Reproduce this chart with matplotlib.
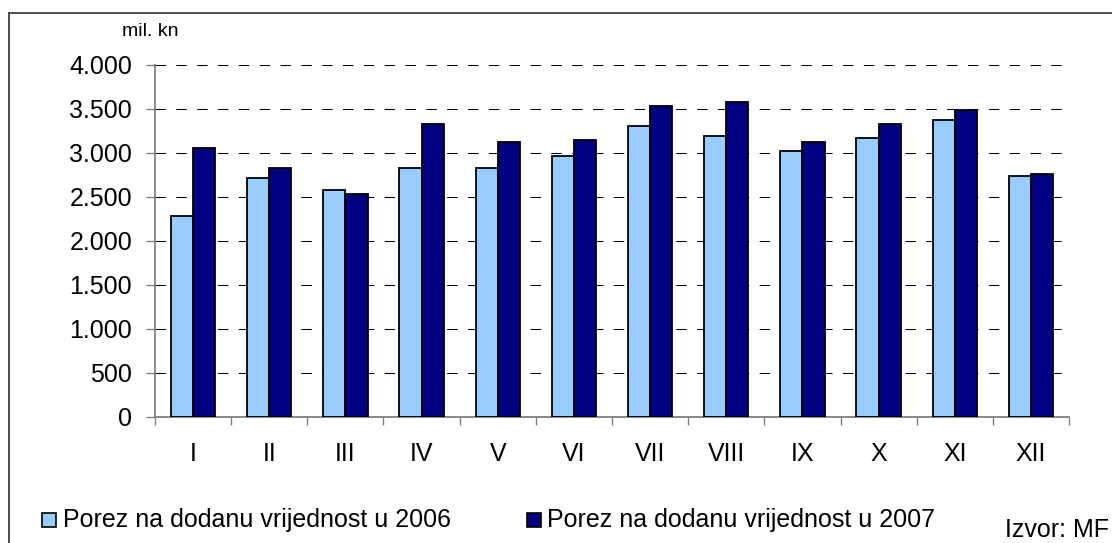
import matplotlib
matplotlib.use("Agg")
import matplotlib.pyplot as plt
from matplotlib.patches import Rectangle
from matplotlib.lines import Line2D
import numpy as np

months = ["I", "II", "III", "IV", "V", "VI", "VII", "VIII", "IX", "X", "XI", "XII"]
pdv_2006 = [2280, 2710, 2575, 2825, 2825, 2960, 3300, 3185, 3025, 3165, 3370, 2730]
pdv_2007 = [3050, 2825, 2530, 3325, 3120, 3140, 3530, 3575, 3120, 3325, 3485, 2755]
y_ticks = [0, 500, 1000, 1500, 2000, 2500, 3000, 3500, 4000]
y_tick_labels = ["0", "500", "1.000", "1.500", "2.000", "2.500", "3.000", "3.500", "4.000"]
series_labels = ["Porez na dodanu vrijednost u 2006", "Porez na dodanu vrijednost u 2007"]
unit_label = "mil. kn"
source_label = "Izvor: MF"

W, H = 1112, 543
fig = plt.figure(figsize=(W / 100, H / 100), dpi=100)
fig.patch.set_facecolor("white")

def fx(px):
    return px / W

def fy(py):
    return 1 - py / H

ax = fig.add_axes([fx(155), fy(416.7), fx(1069) - fx(155), fy(64.7) - fy(416.7)])

c06 = "#99CCFF"
c07 = "#000080"
x = np.arange(len(months))
bw = 0.29
ax.bar(x - bw / 2, pdv_2006, width=bw, color=c06, edgecolor="black", linewidth=1.3, zorder=3)
ax.bar(x + bw / 2, pdv_2007, width=bw, color=c07, edgecolor="black", linewidth=1.3, zorder=3)

ax.set_xlim(-0.5, len(months) - 0.5)
ax.set_ylim(0, 4000)

for s in ["top", "right"]:
    ax.spines[s].set_visible(False)
for s in ["left", "bottom"]:
    ax.spines[s].set_color("#808080")
    ax.spines[s].set_linewidth(1.3)

tick_font = dict(family="Liberation Sans", size=18)

ax.set_yticks(y_ticks)
ax.set_yticklabels(y_tick_labels, fontdict=tick_font)
ax.tick_params(axis="y", direction="out", length=6.5, width=1, color="#808080", pad=10)

ax.set_xticks(np.arange(-0.5, len(months), 1.0))
ax.set_xticklabels([])
ax.tick_params(axis="x", which="major", direction="out", length=6, width=1, color="#808080")
ax.set_xticks(x, minor=True)
ax.set_xticklabels(months, minor=True, fontdict=tick_font)
ax.tick_params(axis="x", which="minor", length=0, pad=18)

ax.yaxis.grid(True, color="black", linewidth=0.75, linestyle=(0, (10, 10)), zorder=0)
ax.set_axisbelow(True)

# unit label
fig.text(fx(150), fy(32), unit_label, ha="center", va="center", family="Liberation Sans", size=14)

# frame
fig.add_artist(Line2D([fx(8.5), fx(8.5)], [fy(12.5), 0], color="#404040", linewidth=1.3))
fig.add_artist(Line2D([fx(8.5), 1], [fy(12.5), fy(12.5)], color="#404040", linewidth=1.3))

# legend
leg_font = dict(family="Liberation Sans", size=18)
for (sx, tx), col, lab in zip([(42, 63), (527, 547)], [c06, c07], series_labels):
    fig.add_artist(Rectangle((fx(sx), fy(527)), fx(14), 14 / H, facecolor=col,
                             edgecolor="black", linewidth=1.2, transform=fig.transFigure))
    fig.text(fx(tx), fy(520), lab, ha="left", va="center", **leg_font)

fig.text(fx(1005), fy(530), source_label, ha="left", va="center", **leg_font)

fig.savefig("out.png", dpi=100, facecolor="white")
